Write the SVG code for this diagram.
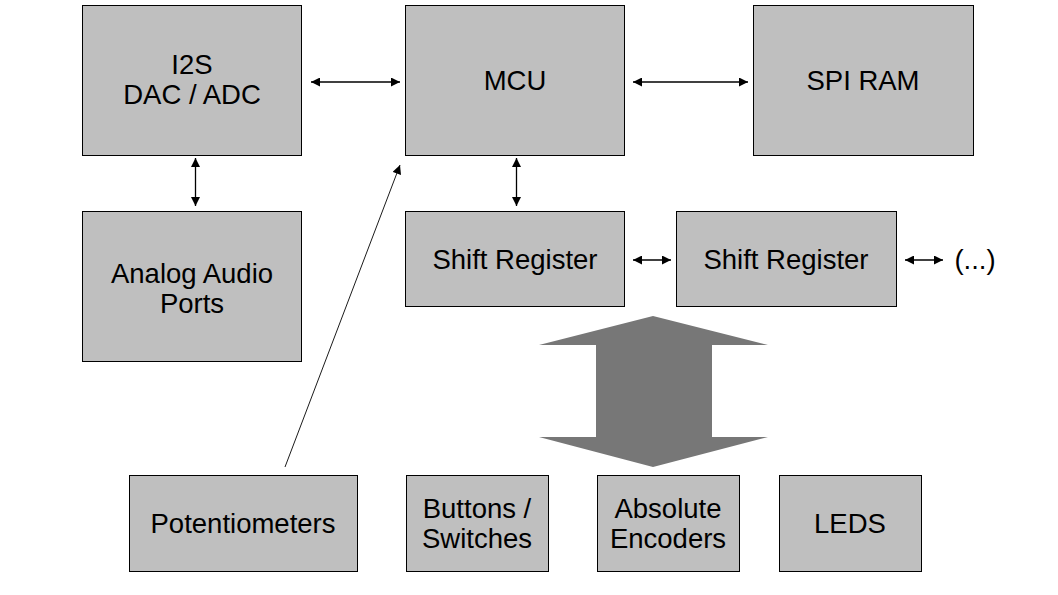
<svg xmlns="http://www.w3.org/2000/svg" width="1058" height="595" viewBox="0 0 1058 595">
<style>
.box{fill:#bfbfbf;stroke:#000;stroke-width:1}
.t{font-family:"Liberation Sans",Arial,sans-serif;font-size:27.5px;fill:#000;text-anchor:middle}
.c{stroke:#000;stroke-width:1.3;fill:none}
</style>
<defs>
<marker id="ah" viewBox="0 0 10 10" refX="10" refY="5" markerWidth="10" markerHeight="9" markerUnits="userSpaceOnUse" orient="auto-start-reverse">
<path d="M0,0 L10,5 L0,10 Z" fill="#000"/>
</marker>
</defs>
<rect width="1058" height="595" fill="#fff"/>
<g id="i2s"><rect class="box" x="82.5" y="5.5" width="219" height="150"/><text class="t" x="192" y="73.5">I2S</text><text class="t" x="192" y="104">DAC / ADC</text></g>
<g id="mcu"><rect class="box" x="405.5" y="5.5" width="219" height="150"/><text class="t" x="515" y="89.5">MCU</text></g>
<g id="spiram"><rect class="box" x="753.5" y="5.5" width="220" height="150"/><text class="t" x="863" y="89.5">SPI RAM</text></g>
<g id="analog"><rect class="box" x="82.5" y="211.5" width="219" height="150"/><text class="t" x="192" y="282.5">Analog Audio</text><text class="t" x="192" y="313">Ports</text></g>
<g id="sr1"><rect class="box" x="405.5" y="211.5" width="219" height="95"/><text class="t" x="515" y="268.5">Shift Register</text></g>
<g id="sr2"><rect class="box" x="676.5" y="211.5" width="220" height="95"/><text class="t" x="786" y="268.5">Shift Register</text></g>
<g id="more"><text class="t" x="975" y="268.5">(...)</text></g>
<g id="pots"><rect class="box" x="129.5" y="475.5" width="228" height="96"/><text class="t" x="243" y="532.5">Potentiometers</text></g>
<g id="buttons"><rect class="box" x="406.5" y="475.5" width="142" height="96"/><text class="t" x="477" y="517.5">Buttons /</text><text class="t" x="477" y="548">Switches</text></g>
<g id="encoders"><rect class="box" x="597.5" y="475.5" width="142" height="96"/><text class="t" x="668" y="517.5">Absolute</text><text class="t" x="668" y="548">Encoders</text></g>
<g id="leds"><rect class="box" x="779.5" y="475.5" width="142" height="96"/><text class="t" x="850" y="532.5">LEDS</text></g>
<g id="connectors">
<line class="c" x1="311" y1="82" x2="400" y2="82" marker-start="url(#ah)" marker-end="url(#ah)"/>
<line class="c" x1="633" y1="82" x2="748" y2="82" marker-start="url(#ah)" marker-end="url(#ah)"/>
<line class="c" x1="195.5" y1="158" x2="195.5" y2="206" marker-start="url(#ah)" marker-end="url(#ah)"/>
<line class="c" x1="516.5" y1="158" x2="516.5" y2="206" marker-start="url(#ah)" marker-end="url(#ah)"/>
<line class="c" x1="633" y1="260" x2="671" y2="260" marker-start="url(#ah)" marker-end="url(#ah)"/>
<line class="c" x1="905" y1="260" x2="943" y2="260" marker-start="url(#ah)" marker-end="url(#ah)"/>
<line x1="285" y1="467" x2="400" y2="165" stroke="#000" stroke-width="0.9" marker-end="url(#ah)"/>
<path d="M653,316 L768,345 L712,345 L712,437 L768,437 L653,467 L539,437 L596,437 L596,345 L539,345 Z" fill="#777777"/>
</g>
</svg>
